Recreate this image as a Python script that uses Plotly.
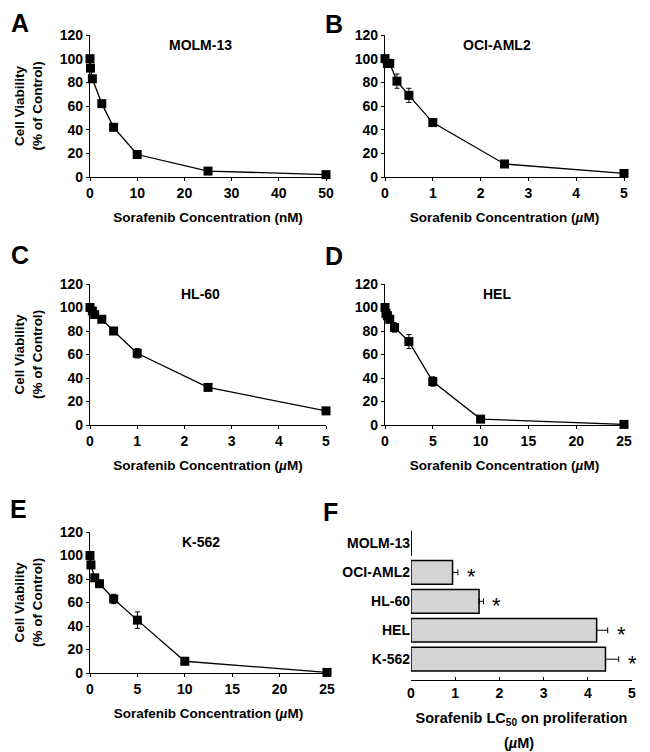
import plotly.graph_objects as go

# page body has an 8px margin; figure drawn so it fills the 650x752 window
OFF = 8
W, H = 650 - OFF, 752 - OFF

# ---------------- data ----------------
molm_x = [0, 0.1, 0.5, 2.5, 5, 10, 25, 50]
molm_y = [100, 92, 83, 62, 42, 19, 5, 2]
molm_e = [0, 0, 0, 1, 1, 2, 1, 0.5]

oci_x = [0, 0.05, 0.1, 0.25, 0.5, 1, 2.5, 5]
oci_y = [100, 96, 96, 81, 69, 46, 11, 3]
oci_e = [0, 1, 1, 6, 6, 3, 1, 0.5]

hl_x = [0, 0.05, 0.1, 0.25, 0.5, 1, 2.5, 5]
hl_y = [100, 97, 94, 90, 80, 61, 32, 12]
hl_e = [0, 1, 1, 1, 1, 4, 1, 3]

hel_x = [0, 0.1, 0.25, 0.5, 1, 2.5, 5, 10, 25]
hel_y = [100, 95, 93, 90, 83, 71, 37, 5, 0.5]
hel_e = [0, 2, 2, 3, 4, 6, 4, 1, 0.5]

k_x = [0, 0.1, 0.5, 1, 2.5, 5, 10, 25]
k_y = [100, 92, 81, 76, 63, 45, 10, 0.5]
k_e = [0, 3, 1, 1, 4, 7, 1, 0.5]

lc50_cells = ["MOLM-13", "OCI-AML2", "HL-60", "HEL", "K-562"]
lc50_vals = [0.004, 0.94, 1.54, 4.20, 4.40]
lc50_err = [0.0, 0.12, 0.10, 0.25, 0.30]
lc50_sig = ["", "*", "*", "*", "*"]

y_ticks = [0, 20, 40, 60, 80, 100, 120]

# --------------- layout helpers (screen px -> paper) ---------------
def fx(p):
    return (p - OFF) / W

def fy(p):
    return 1 - (p - OFF) / H

def px_x(a, b):
    return [fx(a), fx(b)]

def px_y(top, bottom):
    return [fy(bottom), fy(top)]

FONT = "Arial, Liberation Sans, Helvetica, sans-serif"
tickfont = dict(family=FONT, size=14, color="black", weight="bold")
titlefont = dict(family=FONT, size=13.5, color="black", weight="bold")

fig = go.Figure()

panels = [
    (molm_x, molm_y, molm_e, "x", "y", (90, 326), (35, 177), [0, 50], 10, "(nM)", "MOLM-13", True),
    (oci_x, oci_y, oci_e, "x2", "y2", (385, 624), (35, 177), [0, 5], 1, "(<i>µ</i>M)", "OCI-AML2", False),
    (hl_x, hl_y, hl_e, "x3", "y3", (90, 326), (284, 425), [0, 5], 1, "(<i>µ</i>M)", "HL-60", True),
    (hel_x, hel_y, hel_e, "x4", "y4", (385, 624), (284, 425), [0, 25], 5, "(<i>µ</i>M)", "HEL", False),
    (k_x, k_y, k_e, "x5", "y5", (90, 327), (532, 673), [0, 25], 5, "(<i>µ</i>M)", "K-562", True),
]

for (xs, ys, es, xa, ya, xd, yd, xr, xdt, unit, name, showyt) in panels:
    fig.add_trace(go.Scatter(
        x=xs, y=ys, xaxis=xa, yaxis=ya, mode="lines+markers",
        line=dict(color="black", width=1.3),
        marker=dict(symbol="square", size=9, color="black"),
        error_y=dict(type="data", array=es, visible=True, color="black", thickness=1, width=2.5),
        cliponaxis=False, showlegend=False,
    ))
    xkey = "xaxis" if xa == "x" else "xaxis" + xa[1:]
    ykey = "yaxis" if ya == "y" else "yaxis" + ya[1:]
    fig.layout[xkey] = dict(
        domain=px_x(*xd), range=xr, anchor=ya, dtick=xdt, tick0=0, automargin=False,
        showline=True, linecolor="black", linewidth=1.2, ticks="outside", ticklen=3,
        tickcolor="black", showgrid=False, zeroline=False, tickfont=tickfont,
        title=dict(text="Sorafenib Concentration " + unit, font=titlefont, standoff=12),
    )
    ydict = dict(
        domain=px_y(*yd), range=[0, 120], anchor=xa, tickvals=y_ticks, automargin=False,
        showline=True, linecolor="black", linewidth=1.2, ticks="outside", ticklen=3,
        tickcolor="black", showgrid=False, zeroline=False, tickfont=tickfont,
    )
    if showyt:
        ydict["title"] = dict(text="Cell Viability<br>(% of Control)", font=titlefont, standoff=14)
    fig.layout[ykey] = ydict
    fig.add_annotation(
        x=fx(xd[0] + 0.47 * (xd[1] - xd[0])), y=fy(yd[0] + 10), xref="paper", yref="paper",
        text=name, showarrow=False, font=dict(family=FONT, size=14, color="black", weight="bold"),
        xanchor="center", yanchor="middle",
    )

# ---------------- panel F ----------------
fig.add_trace(go.Bar(
    y=lc50_cells, x=lc50_vals, orientation="h", xaxis="x6", yaxis="y6",
    marker=dict(color="#d4d4d4", line=dict(color="black", width=1.5)),
    error_x=dict(type="data", array=lc50_err, arrayminus=[0] * 5, symmetric=False,
                 visible=True, color="black", thickness=1, width=3),
    width=0.82, showlegend=False,
))
fig.layout["xaxis6"] = dict(
    domain=px_x(411, 632), range=[0, 5], anchor="y6", dtick=1, automargin=False,
    showline=True, linecolor="black", linewidth=1.2, ticks="inside", ticklen=3,
    tickcolor="black", showgrid=False, zeroline=False, tickfont=tickfont,
    title=dict(text="Sorafenib LC<sub>50</sub> on proliferation",
               font=dict(family=FONT, size=14.5, color="black", weight="bold"), standoff=12),
)
fig.layout["yaxis6"] = dict(
    domain=px_y(529, 680), anchor="x6", type="category", automargin=False,
    categoryorder="array", categoryarray=lc50_cells, range=[4.72, -0.5],
    showline=False, ticks="", showgrid=False, zeroline=False, tickfont=tickfont,
)
fig.add_annotation(
    x=fx(519), y=fy(743), xref="paper", yref="paper", text="(<i>µ</i>M)", showarrow=False,
    xanchor="center", yanchor="middle",
    font=dict(family=FONT, size=14.5, color="black", weight="bold"),
)
for c, v, e, s in zip(lc50_cells, lc50_vals, lc50_err, lc50_sig):
    if s:
        fig.add_annotation(
            x=v + e, y=c, xref="x6", yref="y6", text=s, showarrow=False,
            xanchor="left", yanchor="middle", xshift=7, yshift=-4,
            font=dict(family=FONT, size=22, color="black"),
        )

# ---------------- panel letters ----------------
letters = [("A", 10, 8), ("B", 324, 9), ("C", 10, 240), ("D", 324, 241), ("E", 9, 494), ("F", 322, 497)]
for t, lx, ly in letters:
    fig.add_annotation(
        x=fx(lx), y=fy(ly), xref="paper", yref="paper", text=t, showarrow=False,
        xanchor="left", yanchor="top", borderpad=0,
        font=dict(family=FONT, size=25, color="black", weight="bold"),
    )

fig.update_layout(
    width=W, height=H, margin=dict(l=0, r=0, t=0, b=0, autoexpand=False),
    paper_bgcolor="white", plot_bgcolor="white", bargap=0.18,
    font=dict(family=FONT, color="black"),
)

fig.write_html("out.html")
